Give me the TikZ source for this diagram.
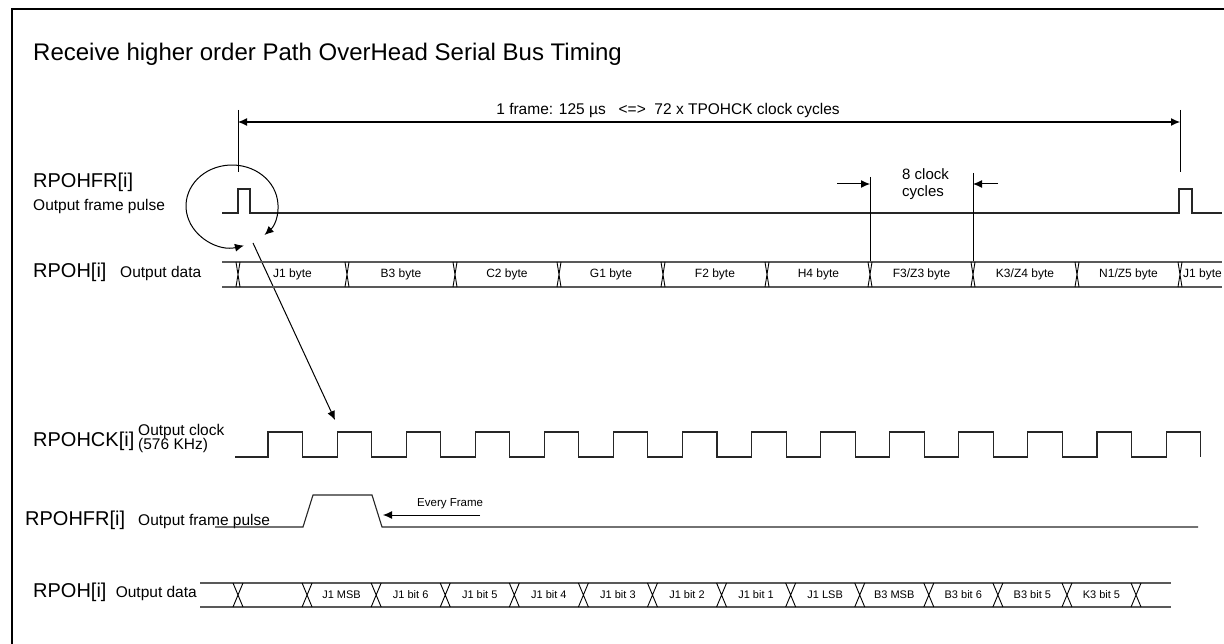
\documentclass[tikz,border=0pt]{standalone}
\usepackage{fontspec}
\setmainfont{Liberation Sans}
\usetikzlibrary{arrows.meta}
\tikzset{
  wave/.style={line width=1.1pt,black!85},
  busline/.style={line width=1.1pt,black!65},
  tip/.style={-{Latex[length=9pt,width=8pt]}},
  biglbl/.style={font=\fontsize{20}{22}\selectfont,anchor=base west,inner sep=0pt},
  sublbl/.style={font=\fontsize{15.5}{17}\selectfont,anchor=base west,inner sep=0pt},
  bytelbl/.style={font=\fontsize{12}{14}\selectfont,inner sep=0pt},
  bitlbl/.style={font=\fontsize{11}{13}\selectfont,inner sep=0pt},
}
\begin{document}
\begin{tikzpicture}[x=1pt,y=-1pt]
\useasboundingbox (0,0) rectangle (1224,644);
\draw[line width=2.5pt] (1224,9) -- (12,9) -- (12,644);
\node[font=\fontsize{24}{26}\selectfont,anchor=base west,inner sep=0pt] (title) at (33,61) {Receive higher order Path OverHead Serial Bus Timing};
% frame length
\coordinate (FL) at (238,110);
\coordinate (FR) at (1180,110);
\draw[line width=1pt] (FL) -- (238,172);
\draw[line width=1pt] (FR) -- (1180,172);
\draw[line width=1.1pt,{Latex[length=9pt,width=8pt]}-{Latex[length=9pt,width=8pt]}] (238,122) -- (1180,122);
\node[font=\fontsize{15.5}{17}\selectfont,inner sep=0pt] (frame) at (668,110) {1 frame: 125 µs\ \ \ <=>\ \ 72 x TPOHCK clock cycles};
% frame pulse
\node[biglbl] (frA) at (33,188) {RPOHFR[i]};
\node[sublbl] (frAd) at (33,211) {Output frame pulse};
\draw[wave] (222,213) -- (238,213) -- (238,189) -- (250,189) -- (250,213) -- (1179,213) -- (1179,189) -- (1192,189) -- (1192,213) -- (1222,213);
% loop round the pulse
\draw[line width=1pt,{Latex[length=9pt,width=8pt]}-{Latex[length=9pt,width=8pt]}] (232,206) ++(75:46 and 41) arc[start angle=75,end angle=405,x radius=46,y radius=41];
\coordinate (C0) at (253,243);
\coordinate (C1) at (335,420);
\draw[line width=1pt,tip] (C0) -- (C1);
% 8 clock cycles
\coordinate (E0) at (870,177);
\coordinate (E1) at (973,173);
\draw[line width=1pt] (E0) -- (870,262);
\draw[line width=1pt] (E1) -- (973,262);
\draw[line width=1pt,tip] (837,184) -- (870,184);
\draw[line width=1pt,tip] (998,184) -- (973,184);
\node[font=\fontsize{15}{17}\selectfont,align=left,anchor=north west,inner sep=0pt] (cyc) at (902,168) {8 clock\\cycles};
% output data, bytes
\node[biglbl] (dA) at (33,278) {RPOH[i]};
\node[sublbl] (dAd) at (120,278) {Output data};
\draw[busline] (222,262) -- (1222,262);
\draw[busline] (222,287) -- (1222,287);
\foreach \t in {238,347,455,559,663,767,870,973,1077,1180}
  \draw[line width=0.9pt] (\t-2,262) -- (\t+2,287) (\t-2,287) -- (\t+2,262);
\foreach \a/\b/\s [count=\n] in {238/347/{J1 byte},347/455/{B3 byte},455/559/{C2 byte},559/663/{G1 byte},663/767/{F2 byte},767/870/{H4 byte},870/973/{F3/Z3 byte},973/1077/{K3/Z4 byte},1077/1180/{N1/Z5 byte}}
  \node[bytelbl] (byte\n) at ({(\a+\b)/2},274.5) {\s};
\node[bytelbl,anchor=west] (byte10) at (1183,274.5) {J1 byte};
% clock
\node[biglbl] (ck) at (33,446) {RPOHCK[i]};
\node[sublbl] (ckd) at (138,435) {Output clock};
\node[sublbl] (ckf) at (138,449) {(576 KHz)};
\draw[wave] (235,457) \foreach \k in {0,...,13} { -- ({268+69.08*\k},457) -- ({268+69.08*\k},432) -- ({302.5+69.08*\k},432) -- ({302.5+69.08*\k},457) };
% frame pulse, detail
\node[biglbl] (frB) at (25,525) {RPOHFR[i]};
\node[sublbl] (frBd) at (138,525) {Output frame pulse};
\draw[wave] (215,527) -- (303,527) -- (313,495) -- (372,495) -- (382,527) -- (1198,527);
\coordinate (F0) at (480,515);
\coordinate (F1) at (383,515);
\draw[line width=1pt,tip] (F0) -- (F1);
\node[font=\fontsize{11.5}{13}\selectfont,anchor=base west,inner sep=0pt] (every) at (417,506) {Every Frame};
% output data, bits
\node[biglbl] (dB) at (33,597) {RPOH[i]};
\node[sublbl,anchor=base east] (dBd) at (197,597) {Output data};
\draw[busline] (200,583) -- (1171,583);
\draw[busline] (200,607) -- (1171,607);
\foreach \k in {0,...,13}
  \draw[line width=0.9pt] ({238+69.08*\k-5},583) -- ({238+69.08*\k+5},607) ({238+69.08*\k-5},607) -- ({238+69.08*\k+5},583);
\foreach \s [count=\k] in {J1 MSB,J1 bit 6,J1 bit 5,J1 bit 4,J1 bit 3,J1 bit 2,J1 bit 1,J1 LSB,B3 MSB,B3 bit 6,B3 bit 5,K3 bit 5}
  \node[bitlbl] (bit\k) at ({238+69.08*\k+34.5},595) {\s};
\end{tikzpicture}
\end{document}
